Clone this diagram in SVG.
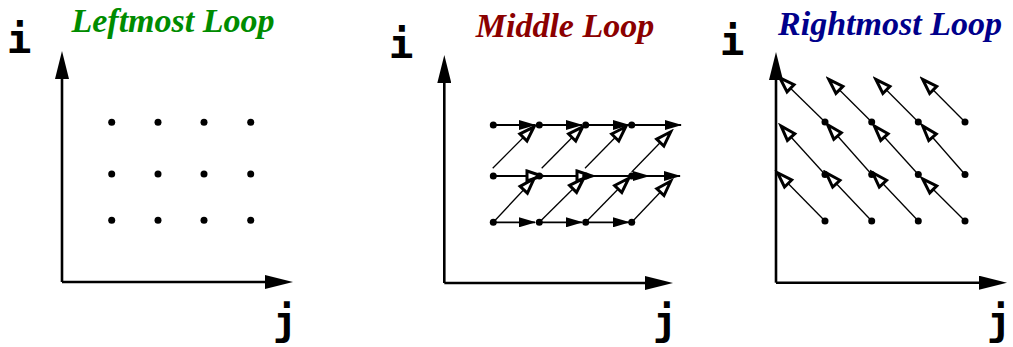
<svg xmlns="http://www.w3.org/2000/svg" width="1013" height="347" viewBox="0 0 1013 347">
<style>
.title{font-family:"Liberation Serif","Times New Roman",serif;font-weight:bold;font-style:italic;font-size:34px;text-anchor:middle}
.lab{font-family:"DejaVu Sans Mono","Liberation Mono",monospace;font-weight:bold;font-size:41px;text-anchor:middle;fill:#000}
.axis{stroke:#000;stroke-width:2.6;fill:none;marker-end:url(#axhead)}
.fl{stroke:#000;stroke-width:1.8;fill:none;marker-end:url(#filled)}
.hl{stroke:#000;stroke-width:1.3;fill:none;marker-end:url(#hollow)}
.hh{stroke:#000;stroke-width:1.8;fill:none;marker-end:url(#hollow)}
.dot{fill:#000}
</style>
<defs>
<marker id="axhead" markerUnits="userSpaceOnUse" viewBox="0 0 28 14" markerWidth="28" markerHeight="14" refX="20" refY="7" orient="auto"><path d="M0,0 L28,7 L0,14 Z" fill="#000"/></marker>
<marker id="filled" markerUnits="userSpaceOnUse" viewBox="0 0 17 10" markerWidth="17" markerHeight="10" refX="16" refY="5" orient="auto"><path d="M0,0 L17,5 L0,10 Z" fill="#000"/></marker>
<marker id="hollow" markerUnits="userSpaceOnUse" viewBox="-3 -3 23 18" markerWidth="23" markerHeight="18" refX="15" refY="6" orient="auto"><path d="M1,1 L16,6 L1,11 Z" fill="#fff" stroke="#000" stroke-width="3" stroke-linejoin="miter"/></marker>
</defs>

<g id="titles">
<text class="title" x="173" y="32" fill="#008c00">Leftmost Loop</text>
<text class="title" x="565" y="37" fill="#8b0000">Middle Loop</text>
<text class="title" x="890" y="35" fill="#00008b">Rightmost Loop</text>
</g>

<g id="axes">
<path class="axis" d="M62,282 V59"/>
<path class="axis" d="M62,282 H285"/>
<path class="axis" d="M444.3,283 V63"/>
<path class="axis" d="M444.3,283 H665"/>
<path class="axis" d="M776,282.7 V60"/>
<path class="axis" d="M776,282.7 H999"/>
<text class="lab" x="19" y="53">i</text>
<text class="lab" x="285" y="335">j</text>
<text class="lab" x="401" y="58">i</text>
<text class="lab" x="665" y="335">j</text>
<text class="lab" x="732" y="55">i</text>
<text class="lab" x="999" y="335">j</text>
</g>

<g id="connectors">
<path class="fl" d="M493.3,125 H535"/>
<path class="fl" d="M539.3,125 H582"/>
<path class="fl" d="M585.7,125 H629"/>
<path class="fl" d="M631.7,125 H681"/>
<path class="fl" d="M493.3,222.3 H535"/>
<path class="fl" d="M539.3,222.3 H582"/>
<path class="fl" d="M585.7,222.3 H629"/>
<path class="hh" d="M493.3,176 H541"/>
<path class="hh" d="M539.3,176 H591"/>
<path class="fl" d="M585.7,176 H649"/>
<path class="fl" d="M631.7,176 H680"/>
<path class="hl" d="M492.7,168.3 L533.3,127.5"/>
<path class="hl" d="M541.7,168.3 L582,127.5"/>
<path class="hl" d="M585,168.3 L625,127.5"/>
<path class="hl" d="M631.7,172 L670,132.5"/>
<path class="hl" d="M493.3,222.3 L533.3,179.5"/>
<path class="hl" d="M539.3,222.3 L583,179"/>
<path class="hl" d="M585.7,222.3 L628,179"/>
<path class="hl" d="M631.7,222.3 L670,182"/>
<path class="hl" d="M825,122 L780.5,78.5"/>
<path class="hl" d="M871.7,122 L829.5,80"/>
<path class="hl" d="M918.3,122 L876.5,80"/>
<path class="hl" d="M965,122 L923.3,80"/>
<path class="hl" d="M825,174.5 L781.7,126.7"/>
<path class="hl" d="M871.7,174.5 L828.3,125.5"/>
<path class="hl" d="M918.3,174.5 L875,126.7"/>
<path class="hl" d="M965,174.5 L923.3,126.7"/>
<path class="hl" d="M825,221 L778.3,173.5"/>
<path class="hl" d="M871.7,221 L826.7,173.5"/>
<path class="hl" d="M918.3,221 L873.3,173.5"/>
<path class="hl" d="M965,221 L923.3,179.5"/>
</g>

<g id="left-points">
<g id="L11"><circle class="dot" cx="111.7" cy="122.3" r="3.5"/></g>
<g id="L12"><circle class="dot" cx="158" cy="122.3" r="3.5"/></g>
<g id="L13"><circle class="dot" cx="204" cy="122.3" r="3.5"/></g>
<g id="L14"><circle class="dot" cx="250.7" cy="122.3" r="3.5"/></g>
<g id="L21"><circle class="dot" cx="111.7" cy="174" r="3.5"/></g>
<g id="L22"><circle class="dot" cx="158" cy="174" r="3.5"/></g>
<g id="L23"><circle class="dot" cx="204" cy="174" r="3.5"/></g>
<g id="L24"><circle class="dot" cx="250.7" cy="174" r="3.5"/></g>
<g id="L31"><circle class="dot" cx="111.7" cy="220.3" r="3.5"/></g>
<g id="L32"><circle class="dot" cx="158" cy="220.3" r="3.5"/></g>
<g id="L33"><circle class="dot" cx="204" cy="220.3" r="3.5"/></g>
<g id="L34"><circle class="dot" cx="250.7" cy="220.3" r="3.5"/></g>
</g>

<g id="middle-points">
<g id="M11"><circle class="dot" cx="493.3" cy="125" r="3.5"/></g>
<g id="M12"><circle class="dot" cx="539.3" cy="125" r="3.5"/></g>
<g id="M13"><circle class="dot" cx="585.7" cy="125" r="3.5"/></g>
<g id="M14"><circle class="dot" cx="631.7" cy="125" r="3.5"/></g>
<g id="M21"><circle class="dot" cx="493.3" cy="176" r="3.5"/></g>
<g id="M22"><circle class="dot" cx="539.3" cy="176" r="3.5"/></g>
<g id="M23"><circle class="dot" cx="585.7" cy="176" r="3.5"/></g>
<g id="M24"><circle class="dot" cx="631.7" cy="176" r="3.5"/></g>
<g id="M31"><circle class="dot" cx="493.3" cy="222.3" r="3.5"/></g>
<g id="M32"><circle class="dot" cx="539.3" cy="222.3" r="3.5"/></g>
<g id="M33"><circle class="dot" cx="585.7" cy="222.3" r="3.5"/></g>
<g id="M34"><circle class="dot" cx="631.7" cy="222.3" r="3.5"/></g>
</g>

<g id="right-points">
<g id="R11"><circle class="dot" cx="825" cy="122" r="3.5"/></g>
<g id="R12"><circle class="dot" cx="871.7" cy="122" r="3.5"/></g>
<g id="R13"><circle class="dot" cx="918.3" cy="122" r="3.5"/></g>
<g id="R14"><circle class="dot" cx="965" cy="122" r="3.5"/></g>
<g id="R21"><circle class="dot" cx="825" cy="174.5" r="3.5"/></g>
<g id="R22"><circle class="dot" cx="871.7" cy="174.5" r="3.5"/></g>
<g id="R23"><circle class="dot" cx="918.3" cy="174.5" r="3.5"/></g>
<g id="R24"><circle class="dot" cx="965" cy="174.5" r="3.5"/></g>
<g id="R31"><circle class="dot" cx="825" cy="221" r="3.5"/></g>
<g id="R32"><circle class="dot" cx="871.7" cy="221" r="3.5"/></g>
<g id="R33"><circle class="dot" cx="918.3" cy="221" r="3.5"/></g>
<g id="R34"><circle class="dot" cx="965" cy="221" r="3.5"/></g>
</g>
</svg>
